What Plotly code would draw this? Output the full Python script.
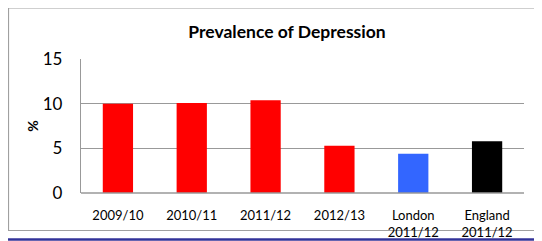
import plotly.graph_objects as go

categories = ["2009/10", "2010/11", "2011/12", "2012/13", "London<br>2011/12", "England<br>2011/12"]
values = [10.0, 10.1, 10.4, 5.3, 4.4, 5.8]
bar_colors = ["#FF0000", "#FF0000", "#FF0000", "#FF0000", "#3366FF", "#000000"]
y_ticks = [0, 5, 10, 15]

# page has an 8px body margin, so the figure is drawn at (8, 8)
OFF = 8
W, H = 542 - OFF, 241 - OFF
L, R, T, B = 81 - OFF, 18, 59 - OFF, 48
pw, ph = W - L - R, H - T - B

def px_x(p):  # page pixel -> paper x
    return (p - OFF - L) / pw

def px_y(p):  # page pixel -> paper y
    return (H - B - (p - OFF)) / ph

fig = go.Figure(go.Bar(
    x=categories, y=values, marker=dict(color=bar_colors, line=dict(width=0)),
    width=0.41,
))

font = "Lato, 'Open Sans', sans-serif"
fig.update_layout(
    width=W, height=H,
    margin=dict(l=L, r=R, t=T, b=B, autoexpand=False),
    paper_bgcolor="white", plot_bgcolor="white",
    showlegend=False,
    font=dict(family=font, color="#000000"),
    title=dict(text="<b>Prevalence of Depression</b>", x=px_x(287), xref="paper",
               xanchor="center", y=1 - (32 - OFF) / H, yanchor="middle",
               font=dict(size=17.5, family=font, color="#000")),
    xaxis=dict(showgrid=False, showline=False, tickfont=dict(size=13),
               ticks="", ticklabelstandoff=13, automargin=False),
    yaxis=dict(range=[0, 15.02], tickvals=y_ticks, showgrid=True, gridcolor="#999999",
               gridwidth=1.3, zeroline=False, showline=True, linecolor="#999999",
               linewidth=1.3, tickfont=dict(size=17), ticklabelstandoff=14,
               automargin=False,
               title=dict(text="<b>%</b>", font=dict(size=14), standoff=0)),
    shapes=[
        dict(type="line", xref="paper", yref="paper", x0=0, x1=1, y0=0, y1=0,
             line=dict(color="#999999", width=1.5)),
        dict(type="rect", xref="paper", yref="paper",
             x0=px_x(8.5), x1=px_x(548), y0=px_y(230.5), y1=px_y(8),
             line=dict(color="#A0A0A0", width=1.2), layer="below"),
        dict(type="line", xref="paper", yref="paper",
             x0=px_x(-2), x1=px_x(546), y0=px_y(239.5), y1=px_y(239.5),
             line=dict(color="#333399", width=2.5)),
    ],
)

fig.write_html("out.html")
